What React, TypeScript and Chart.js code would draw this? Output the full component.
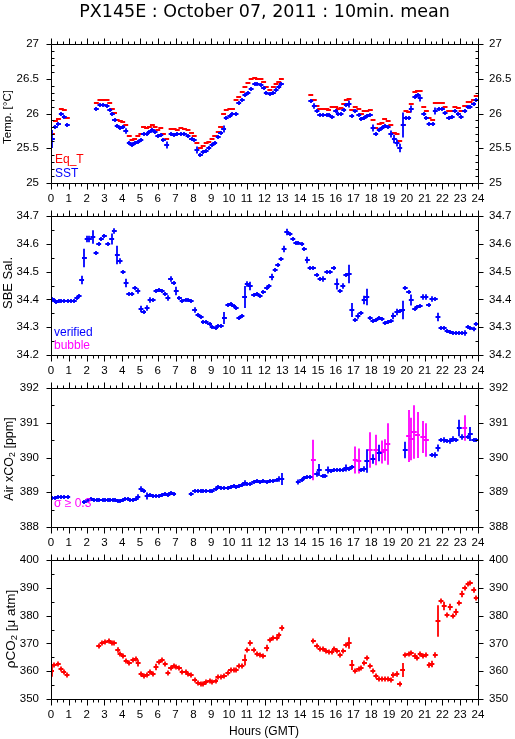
import React, { useEffect, useRef } from "react";
import { Chart, registerables } from "chart.js";
Chart.register(...registerables);

// ---------- shared axis labels ----------
const hourLabels = ["0","1","2","3","4","5","6","7","8","9","10","11","12","13","14","15","16","17","18","19","20","21","22","23","24"];

// ---------- Panel 1 : temperature ----------
const tempHours = [
  0.08, 0.25, 0.42, 0.58, 0.75, 0.92,
  2.55, 2.75, 2.95, 3.15, 3.3, 3.45, 3.57, 3.72, 3.9, 4.03, 4.2, 4.4, 4.55, 4.7, 4.88, 5.05, 5.2, 5.37, 5.53, 5.7,
  5.85, 6.0, 6.17, 6.32, 6.5, 6.75, 6.92, 7.1, 7.3, 7.5, 7.7, 7.9, 8.05, 8.2, 8.4, 8.55, 8.72, 8.87, 9.05, 9.2,
  9.4, 9.53, 9.7, 9.85, 10.05, 10.2, 10.4, 10.55, 10.75, 10.9, 11.07, 11.25, 11.45, 11.6, 11.8, 11.95, 12.1, 12.3,
  12.5, 12.65, 12.8, 12.95,
  14.6, 14.8, 14.95, 15.1, 15.3, 15.5, 15.6, 15.8, 16.0, 16.15, 16.3, 16.45, 16.6, 16.75, 16.9, 17.1, 17.3, 17.45,
  17.6, 17.75, 17.95, 18.1, 18.25, 18.45, 18.6, 18.75, 18.95, 19.1, 19.3, 19.45, 19.6, 19.8, 19.95, 20.1, 20.25,
  20.45, 20.6, 20.75, 20.95, 21.1, 21.25, 21.45, 21.6, 21.8, 22.0, 22.15, 22.35, 22.55, 22.7, 22.9, 23.05, 23.25,
  23.45, 23.55, 23.75, 23.9,
];
const eqTValues = [
  25.70, 25.89, 25.92, 26.06, 26.05, 25.93,
  26.15, 26.20, 26.20, 26.20, 26.15, 26.07, 26.01, 25.90, 25.89, 25.88, 25.84, 25.67, 25.62, 25.64, 25.67, 25.70,
  25.80, 25.79, 25.81, 25.83, 25.81, 25.76, 25.79, 25.70, 25.63, 25.78, 25.78, 25.76, 25.79, 25.78, 25.76, 25.72,
  25.67, 25.58, 25.50, 25.53, 25.57, 25.59, 25.63, 25.67, 25.73, 25.81, 26.00, 26.05, 26.06, 26.07, 26.19, 26.24,
  26.31, 26.38, 26.44, 26.49, 26.51, 26.50, 26.49, 26.45, 26.38, 26.34, 26.38, 26.43, 26.46, 26.49,
  26.26, 26.19, 26.11, 26.07, 26.06, 26.07, 26.05, 26.10, 26.09, 26.07, 26.08, 26.14, 26.20, 26.21, 26.05, 26.10,
  26.06, 25.99, 26.03, 26.04, 26.05, 25.91, 25.79, 25.85, 25.87, 25.92, 25.89, 25.83, 25.72, 25.71, 25.60, 25.84,
  26.04, 26.02, 26.14, 26.31, 26.33, 26.33, 26.09, 26.04, 25.94, 25.91, 26.15, 26.15, 26.15, 26.09, 26.03, 26.03,
  26.10, 26.08, 26.04, 26.11, 26.17, 26.17, 26.20, 26.25,
];
const sstValues = [
  25.64, 25.81, 25.85, 25.99, 25.95, 25.83,
  26.07, 26.12, 26.12, 26.11, 26.05, 26.00, 25.91, 25.82, 25.79, 25.81, 25.75, 25.57, 25.54, 25.57, 25.59, 25.62,
  25.71, 25.71, 25.74, 25.76, 25.74, 25.68, 25.69, 25.62, 25.55, 25.70, 25.69, 25.70, 25.71, 25.70, 25.68, 25.64,
  25.62, 25.48, 25.40, 25.44, 25.46, 25.51, 25.55, 25.58, 25.66, 25.72, 25.77, 25.93, 25.97, 25.99, 26.00, 26.15,
  26.20, 26.26, 26.30, 26.35, 26.43, 26.42, 26.41, 26.36, 26.30, 26.28, 26.30, 26.34, 26.38, 26.43,
  26.18, 26.11, 26.03, 25.98, 25.98, 25.98, 25.98, 25.95, 26.03, 26.00, 26.00, 26.05, 26.12, 26.14, 25.96, 26.03,
  25.98, 25.92, 25.94, 25.96, 25.98, 25.79, 25.70, 25.76, 25.79, 25.82, 25.80, 25.71, 25.64, 25.57, 25.50, 25.84,
  25.94, 25.94, 26.07, 26.24, 26.27, 26.23, 25.99, 25.94, 25.85, 25.85, 26.04, 26.06, 26.06, 26.01, 25.94, 25.95,
  26.03, 26.00, 25.95, 26.03, 26.09, 26.10, 26.14, 26.19,
];
const sstErr: [number, number][] = [
  [0.08, 0.13], [3.9, 0.03], [4.2, 0.04], [4.4, 0.03], [5.05, 0.03], [6.32, 0.03], [6.5, 0.05], [8.2, 0.05],
  [9.4, 0.03], [9.7, 0.05], [10.75, 0.02], [10.9, 0.03], [14.8, 0.04], [16.75, 0.05], [17.3, 0.03], [18.1, 0.05],
  [19.1, 0.05], [19.3, 0.06], [19.45, 0.05], [19.6, 0.06], [19.8, 0.18], [20.25, 0.05], [20.75, 0.05], [21.6, 0.05],
];
const tempTickValues = [25, 25.5, 26, 26.5, 27];
const tempTickLabels = ["25", "25.5", "26", "26.5", "27"];

// ---------- Panel 2 : salinity [hour, value, sigma] ----------
const salinity: number[][] = [
  [0.08, 34.400], [0.2, 34.396], [0.3, 34.390, 0.006], [0.43, 34.393], [0.58, 34.395], [0.75, 34.396], [0.94, 34.394],
  [1.12, 34.394], [1.31, 34.394], [1.45, 34.405], [1.58, 34.414], [1.72, 34.47, 0.015], [1.88, 34.55, 0.033],
  [2.03, 34.616, 0.012], [2.16, 34.616, 0.012], [2.35, 34.623, 0.024], [2.53, 34.567], [2.68, 34.599], [2.83, 34.616],
  [3.0, 34.628], [3.19, 34.60], [3.41, 34.616, 0.02], [3.56, 34.647, 0.01], [3.73, 34.56, 0.033], [3.88, 34.537, 0.01],
  [4.05, 34.50], [4.22, 34.46, 0.015], [4.37, 34.42], [4.54, 34.42], [4.71, 34.44], [4.88, 34.43, 0.01],
  [5.06, 34.366, 0.012], [5.2, 34.354], [5.4, 34.37, 0.01], [5.57, 34.399, 0.01], [5.74, 34.399], [5.9, 34.432],
  [6.06, 34.435], [6.25, 34.43], [6.42, 34.418], [6.57, 34.406, 0.01], [6.72, 34.475, 0.01], [6.89, 34.459],
  [7.04, 34.43, 0.015], [7.22, 34.405], [7.37, 34.396], [7.56, 34.399], [7.69, 34.399], [7.88, 34.394],
  [8.07, 34.363, 0.01], [8.26, 34.345], [8.44, 34.336], [8.57, 34.318], [8.72, 34.318], [8.91, 34.312], [9.06, 34.30],
  [9.25, 34.298], [9.38, 34.306], [9.57, 34.306], [9.75, 34.334, 0.022], [9.94, 34.381], [10.09, 34.382],
  [10.26, 34.375], [10.41, 34.37], [10.56, 34.334], [10.73, 34.34], [10.88, 34.41, 0.04], [11.03, 34.457, 0.01],
  [11.2, 34.447, 0.015], [11.39, 34.417], [11.58, 34.418], [11.75, 34.414], [11.94, 34.427], [12.12, 34.44],
  [12.25, 34.45], [12.4, 34.48, 0.012], [12.6, 34.505], [12.74, 34.523], [12.93, 34.547], [13.1, 34.583, 0.012],
  [13.25, 34.641, 0.012], [13.43, 34.637], [13.59, 34.619], [13.76, 34.604], [13.9, 34.604], [14.09, 34.599],
  [14.24, 34.58], [14.41, 34.54, 0.012], [14.56, 34.514], [14.75, 34.514], [14.93, 34.487], [15.12, 34.475],
  [15.31, 34.475, 0.01], [15.5, 34.50], [15.69, 34.50], [15.88, 34.514], [16.06, 34.457, 0.02], [16.25, 34.432],
  [16.4, 34.447, 0.01], [16.57, 34.487], [16.76, 34.49, 0.033], [16.91, 34.363, 0.025], [17.1, 34.327],
  [17.25, 34.342, 0.01], [17.42, 34.35], [17.6, 34.399, 0.015], [17.75, 34.41, 0.03], [17.94, 34.334], [18.09, 34.324],
  [18.26, 34.327], [18.45, 34.334], [18.6, 34.328], [18.78, 34.314], [18.93, 34.318], [19.12, 34.324],
  [19.25, 34.342, 0.012], [19.44, 34.354, 0.012], [19.59, 34.357], [19.76, 34.363, 0.033], [19.91, 34.44],
  [20.1, 34.427], [20.25, 34.399, 0.02], [20.44, 34.366], [20.57, 34.372], [20.75, 34.375], [20.9, 34.41, 0.01],
  [21.07, 34.41, 0.01], [21.22, 34.381], [21.41, 34.403, 0.01], [21.6, 34.403], [21.75, 34.336, 0.015],
  [21.92, 34.298], [22.1, 34.298], [22.26, 34.288], [22.44, 34.282], [22.59, 34.278], [22.76, 34.278],
  [22.95, 34.278], [23.1, 34.278], [23.25, 34.278, 0.01], [23.44, 34.30], [23.57, 34.296], [23.76, 34.294, 0.008],
  [23.9, 34.312],
];
const salTickValues = [34.2, 34.3, 34.4, 34.5, 34.6, 34.7];
const salTickLabels = ["34.2", "34.3", "34.4", "34.5", "34.6", "34.7"];

// ---------- Panel 3 : air xCO2 [hour, value, sigma] ----------
const airCO2: number[][] = [
  [0.06, 388.83], [0.2, 388.83], [0.38, 388.85], [0.56, 388.87], [0.75, 388.87], [0.94, 388.87],
  [1.88, 388.73], [2.06, 388.78], [2.25, 388.80], [2.4, 388.78], [2.57, 388.78], [2.72, 388.78], [2.9, 388.78],
  [3.06, 388.78], [3.19, 388.79], [3.34, 388.78], [3.47, 388.79], [3.62, 388.78], [3.75, 388.76], [3.88, 388.76],
  [4.03, 388.78], [4.18, 388.80], [4.33, 388.80], [4.46, 388.79], [4.6, 388.78], [4.75, 388.80], [4.88, 388.85, 0.08],
  [5.06, 389.09, 0.08], [5.2, 389.05, 0.05], [5.4, 388.90, 0.1], [5.57, 388.92], [5.74, 388.90], [5.9, 388.90],
  [6.06, 388.90], [6.25, 388.93], [6.42, 388.95, 0.05], [6.57, 388.93], [6.72, 388.97, 0.05], [6.89, 388.95],
  [7.88, 388.95], [8.07, 389.03], [8.26, 389.05], [8.44, 389.03], [8.57, 389.03], [8.72, 389.03], [8.91, 389.03],
  [9.06, 389.05], [9.25, 389.09], [9.38, 389.16, 0.06], [9.57, 389.12], [9.75, 389.12], [9.94, 389.12],
  [10.09, 389.14, 0.05], [10.26, 389.17], [10.41, 389.14], [10.56, 389.19, 0.06], [10.73, 389.22], [10.88, 389.26, 0.08],
  [11.03, 389.24], [11.2, 389.24], [11.39, 389.29], [11.58, 389.31], [11.75, 389.29], [11.94, 389.31], [12.12, 389.29],
  [12.3, 389.31], [12.5, 389.32], [12.68, 389.34, 0.06], [12.8, 389.38, 0.08], [12.97, 389.38, 0.17],
  [13.9, 389.29, 0.07], [14.09, 389.34], [14.24, 389.40, 0.05], [14.41, 389.45, 0.06], [14.56, 389.45, 0.05],
  [14.93, 389.53, 0.08], [15.08, 389.63, 0.17], [15.27, 389.48], [15.4, 389.48], [15.55, 389.63, 0.1], [15.74, 389.61],
  [15.88, 389.63], [16.06, 389.65], [16.23, 389.65], [16.4, 389.65], [16.57, 389.70, 0.1], [16.76, 389.68],
  [16.91, 389.72, 0.06], [17.43, 389.63, 0.05], [17.6, 389.68, 0.08], [17.75, 389.89, 0.34], [18.09, 389.97, 0.14],
  [18.45, 390.13, 0.24], [19.91, 390.23, 0.24], [21.41, 390.06, 0.05], [21.6, 390.06, 0.08], [21.75, 390.26, 0.1],
  [21.92, 390.50, 0.06], [22.1, 390.50, 0.08], [22.26, 390.48, 0.05], [22.44, 390.48, 0.08], [22.59, 390.52, 0.08],
  [22.76, 390.50], [22.95, 390.84, 0.24], [23.1, 390.58, 0.08], [23.44, 390.60, 0.05], [23.57, 390.69, 0.2],
  [23.76, 390.50], [23.9, 390.50],
];
const airCO2Sigma: number[][] = [
  [14.75, 389.92, 0.58], [17.1, 389.93, 0.39], [17.3, 389.89, 0.36], [17.94, 390.21, 0.51], [18.26, 390.23, 0.44],
  [18.6, 390.16, 0.33], [18.78, 390.23, 0.31], [18.93, 390.40, 0.6], [20.1, 390.61, 0.75], [20.25, 390.52, 0.61],
  [20.42, 390.74, 0.77], [20.6, 390.64, 0.66], [20.9, 390.58, 0.46], [21.1, 390.50, 0.48], [23.25, 390.84, 0.37],
];
const airTickValues = [388, 389, 390, 391, 392];
const airTickLabels = ["388", "389", "390", "391", "392"];

// ---------- Panel 4 : pCO2 [hour, value, sigma] ----------
const pCO2: number[][] = [
  [0.03, 360.0, 2.1], [0.19, 362.4], [0.41, 362.7, 0.8], [0.56, 360.9], [0.71, 359.7], [0.9, 358.8],
  [2.68, 369.0], [2.87, 370.0], [3.06, 370.4], [3.25, 370.8], [3.43, 370.0], [3.56, 370.0], [3.75, 367.5, 1],
  [3.88, 366.1], [4.07, 365.4], [4.22, 363.7, 0.9], [4.41, 363.0], [4.6, 363.9], [4.75, 364.5], [4.9, 363.0, 1.3],
  [5.06, 358.9], [5.2, 358.2], [5.4, 358.5], [5.57, 359.7], [5.74, 358.9], [5.9, 361.5, 1.2], [6.06, 363.3],
  [6.25, 363.9], [6.42, 362.5, 0.9], [6.57, 359.4, 0.8], [6.72, 361.2], [6.89, 361.8], [7.04, 361.5], [7.22, 361.3],
  [7.37, 359.7], [7.56, 359.7], [7.69, 359.1], [7.88, 358.8], [8.07, 357.0, 0.8], [8.26, 355.8], [8.44, 355.3],
  [8.57, 355.3], [8.72, 356.1], [8.91, 356.4], [9.06, 356.1], [9.25, 356.5], [9.38, 357.9], [9.57, 357.9],
  [9.75, 358.2], [9.94, 359.4], [10.09, 360.3], [10.26, 360.6], [10.41, 360.3], [10.56, 361.8], [10.73, 361.9],
  [10.88, 364.2, 2], [11.03, 367.8], [11.2, 370.2, 1], [11.39, 367.8, 0.9], [11.58, 366.1], [11.75, 365.7],
  [11.94, 365.5], [12.12, 368.5, 1.2], [12.3, 371.4], [12.5, 371.8], [12.7, 372.1], [12.8, 373.2], [12.97, 375.4, 1],
  [14.75, 370.8], [14.93, 369.1], [15.12, 368.1], [15.31, 367.9], [15.46, 367.2], [15.63, 366.9], [15.78, 366.9],
  [15.93, 367.9], [16.1, 367.2, 0.8], [16.25, 365.7], [16.44, 367.3], [16.57, 369.6], [16.76, 370.0, 2.1],
  [16.91, 362.1, 1.8], [17.1, 360.0], [17.29, 360.9], [17.43, 361.3], [17.62, 363.1, 0.9], [17.75, 364.9, 0.9],
  [17.94, 361.8], [18.09, 360.0], [18.26, 358.2], [18.41, 357.3], [18.6, 357.1], [18.75, 357.1], [18.93, 357.3],
  [19.12, 357.0], [19.25, 358.5, 1], [19.44, 359.1, 1], [19.59, 355.5], [19.76, 360.3, 2.5], [19.91, 365.7],
  [20.1, 366.3], [20.25, 366.7], [20.44, 365.4, 1], [20.57, 364.9], [20.75, 366.1], [20.9, 365.4], [21.07, 365.7],
  [21.26, 362.1, 1], [21.41, 362.5, 1.2], [21.6, 365.7, 1], [21.75, 378.0, 5.7], [21.92, 385.2], [22.1, 383.4, 1.5],
  [22.26, 380.2], [22.44, 383.2, 1.2], [22.59, 379.8], [22.76, 381.4, 1.2], [22.95, 384.6], [23.1, 387.7, 1.2],
  [23.25, 390.0], [23.44, 391.2], [23.57, 391.6], [23.76, 389.2, 1], [23.9, 386.2],
];
const pco2TickValues = [350, 360, 370, 380, 390, 400];
const pco2TickLabels = ["350", "360", "370", "380", "390", "400"];

// ---------- styling ----------
const BLUE = "#0000ff";
const RED = "#ff0000";
const MAGENTA = "#ff00ff";
const TICK_FONT = '11.5px "Liberation Sans", Arial, sans-serif';
const HALF_BIN = 0.11;
const PLOT_H = 139;

type Series = { points: number[][]; color: string; dashOnly?: boolean; minHalf: number };
type TitlePart = { t: string; sub?: boolean };
type Note = { text: string; color: string; x: number; y: number; size: number };
type PanelDef = {
  panelTop: number; canvasTop: number; padTop: number; padBottom: number;
  yMin: number; yMax: number; minor: number; major: number;
  tickValues: number[]; tickLabels: string[];
  title: TitlePart[]; titleSize: number; titleX: number; titleY: number;
  series: Series[]; notes: Note[]; mainTitle?: boolean; hoursTitle?: boolean;
};

const zip = (hs: number[], vs: number[], errs?: [number, number][]) =>
  hs.map((h, i) => {
    const e = errs ? errs.find((p) => p[0] === h) : undefined;
    return [h, vs[i], e ? e[1] : 0];
  });

const panels: PanelDef[] = [
  {
    panelTop: 44, canvasTop: 0, padTop: 44, padBottom: 30,
    yMin: 25, yMax: 27, minor: 0.1, major: 0.5,
    tickValues: tempTickValues, tickLabels: tempTickLabels,
    title: [{ t: "Temp. [°C]" }], titleSize: 11.5, titleX: 8, titleY: 117,
    series: [
      { points: zip(tempHours, eqTValues), color: RED, dashOnly: true, minHalf: 0 },
      { points: zip(tempHours, sstValues, sstErr), color: BLUE, minHalf: 2 },
    ],
    notes: [
      { text: "Eq_T", color: RED, x: 55, y: 163, size: 12 },
      { text: "SST", color: BLUE, x: 55, y: 177, size: 12 },
    ],
    mainTitle: true,
  },
  {
    panelTop: 216, canvasTop: 186, padTop: 30, padBottom: 30,
    yMin: 34.2, yMax: 34.7, minor: 0.05, major: 0.1,
    tickValues: salTickValues, tickLabels: salTickLabels,
    title: [{ t: "SBE Sal." }], titleSize: 13, titleX: 8, titleY: 283,
    series: [{ points: salinity, color: BLUE, minHalf: 2 }],
    notes: [
      { text: "verified", color: BLUE, x: 54, y: 336, size: 12 },
      { text: "bubble", color: MAGENTA, x: 54, y: 349, size: 12 },
    ],
  },
  {
    panelTop: 388, canvasTop: 358, padTop: 30, padBottom: 30,
    yMin: 388, yMax: 392, minor: 0.5, major: 1,
    tickValues: airTickValues, tickLabels: airTickLabels,
    title: [{ t: "Air xCO" }, { t: "2", sub: true }, { t: " [ppm]" }], titleSize: 12.5, titleX: 10, titleY: 459,
    series: [
      { points: airCO2Sigma, color: MAGENTA, minHalf: 2 },
      { points: airCO2, color: BLUE, minHalf: 2 },
    ],
    notes: [{ text: "σ ≥ 0.3", color: MAGENTA, x: 54, y: 507, size: 12 }],
  },
  {
    panelTop: 560, canvasTop: 530, padTop: 30, padBottom: 40,
    yMin: 350, yMax: 400, minor: 5, major: 10,
    tickValues: pco2TickValues, tickLabels: pco2TickLabels,
    title: [{ t: "ρCO" }, { t: "2", sub: true }, { t: " [μ atm]" }], titleSize: 13.5, titleX: 11, titleY: 629,
    series: [{ points: pCO2, color: RED, minHalf: 2.5 }],
    notes: [],
    hoursTitle: true,
  },
];

function makePlugin(def: PanelDef) {
  return {
    id: "gradsPanel",
    afterDatasetsDraw(chart: any) {
      const ctx: CanvasRenderingContext2D = chart.ctx;
      const xs = chart.scales.x;
      const ys = chart.scales.y;
      const ca = chart.chartArea;
      ctx.save();
      ctx.beginPath();
      ctx.rect(ca.left, ca.top, ca.right - ca.left, ca.bottom - ca.top);
      ctx.clip();
      ctx.lineWidth = 1.8;
      ctx.lineCap = "butt";
      for (const s of def.series) {
        ctx.strokeStyle = s.color;
        ctx.beginPath();
        for (const p of s.points) {
          const [h, v] = p;
          const err = p[2] || 0;
          const px = Math.round(xs.getPixelForValue(h));
          const py = Math.round(ys.getPixelForValue(v));
          const x1 = xs.getPixelForValue(h - HALF_BIN);
          const x2 = xs.getPixelForValue(h + HALF_BIN);
          ctx.moveTo(x1 - 0.5, py);
          ctx.lineTo(x2 + 0.5, py);
          if (!s.dashOnly) {
            const eTop = ys.getPixelForValue(v + err);
            const eBot = ys.getPixelForValue(v - err);
            const half = Math.max((eBot - eTop) / 2, s.minHalf);
            ctx.moveTo(px, py - half);
            ctx.lineTo(px, py + half);
          }
        }
        ctx.stroke();
      }
      ctx.restore();
    },
    afterDraw(chart: any) {
      const ctx: CanvasRenderingContext2D = chart.ctx;
      const xs = chart.scales.x;
      const ys = chart.scales.y;
      const ca = chart.chartArea;
      const L = Math.round(ca.left) + 0.5;
      const R = Math.round(ca.right) + 0.5;
      const T = Math.round(ca.top) + 0.5;
      const B = Math.round(ca.bottom) + 0.5;
      ctx.save();
      ctx.strokeStyle = "#000";
      ctx.lineWidth = 1;
      ctx.beginPath();
      ctx.rect(L, T, R - L, B - T);
      // x ticks every 20 minutes, labelled every hour
      for (let i = 0; i <= 72; i++) {
        const h = i / 3;
        const x = Math.round(xs.getPixelForValue(h)) + 0.5;
        const len = i % 3 === 0 ? 6 : 3;
        ctx.moveTo(x, T);
        ctx.lineTo(x, T - len);
        ctx.moveTo(x, B);
        ctx.lineTo(x, B + len);
      }
      // y ticks
      const n = Math.round((def.yMax - def.yMin) / def.minor);
      const ratio = Math.round(def.major / def.minor);
      for (let i = 0; i <= n; i++) {
        const v = def.yMin + i * def.minor;
        const y = Math.round(ys.getPixelForValue(v)) + 0.5;
        if (i % ratio === 0) {
          ctx.moveTo(L - 5, y);
          ctx.lineTo(L, y);
          ctx.moveTo(R, y);
          ctx.lineTo(R + 5, y);
        } else {
          ctx.moveTo(L, y);
          ctx.lineTo(L + 3, y);
          ctx.moveTo(R - 3, y);
          ctx.lineTo(R, y);
        }
      }
      ctx.stroke();

      ctx.fillStyle = "#000";
      ctx.font = TICK_FONT;
      ctx.textBaseline = "alphabetic";
      ctx.textAlign = "center";
      hourLabels.forEach((lab, i) => {
        ctx.fillText(lab, xs.getPixelForValue(i), ca.bottom + 19);
      });
      ctx.textBaseline = "middle";
      def.tickValues.forEach((v, i) => {
        const y = ys.getPixelForValue(v);
        ctx.textAlign = "right";
        ctx.fillText(def.tickLabels[i], 39, y);
        ctx.textAlign = "left";
        ctx.fillText(def.tickLabels[i], 489, y);
      });

      // rotated axis title
      const off = def.canvasTop;
      ctx.save();
      ctx.translate(def.titleX, def.titleY - off);
      ctx.rotate(-Math.PI / 2);
      const big = `${def.titleSize}px "Liberation Sans", Arial, sans-serif`;
      const small = `${def.titleSize * 0.7}px "Liberation Sans", Arial, sans-serif`;
      let total = 0;
      for (const p of def.title) {
        ctx.font = p.sub ? small : big;
        total += ctx.measureText(p.t).width;
      }
      let cx = -total / 2;
      ctx.textAlign = "left";
      ctx.textBaseline = "middle";
      for (const p of def.title) {
        ctx.font = p.sub ? small : big;
        ctx.fillText(p.t, cx, p.sub ? 3 : 0);
        cx += ctx.measureText(p.t).width;
      }
      ctx.restore();

      // notes
      ctx.textAlign = "left";
      ctx.textBaseline = "alphabetic";
      for (const nt of def.notes) {
        ctx.font = `${nt.size}px "Liberation Sans", Arial, sans-serif`;
        ctx.fillStyle = nt.color;
        ctx.fillText(nt.text, nt.x, nt.y - off);
      }

      ctx.fillStyle = "#000";
      if (def.mainTitle) {
        ctx.font = '17.5px "DejaVu Sans", sans-serif';
        ctx.textAlign = "center";
        ctx.fillText("PX145E : October 07, 2011 : 10min. mean", 264.5, 17 - off);
      }
      if (def.hoursTitle) {
        ctx.font = '12px "Liberation Sans", Arial, sans-serif';
        ctx.textAlign = "center";
        ctx.fillText("Hours (GMT)", 264, 735 - off);
      }
      ctx.restore();
    },
  };
}

function Panel({ def }: { def: PanelDef }) {
  const ref = useRef<HTMLCanvasElement>(null);
  const h = def.padTop + PLOT_H + def.padBottom;
  useEffect(() => {
    if (!ref.current) return;
    const chart = new Chart(ref.current, {
      type: "scatter",
      data: {
        datasets: def.series.map((s) => ({
          data: s.points.map((p) => ({ x: p[0], y: p[1] })),
          pointRadius: 0,
          showLine: false,
        })),
      },
      options: {
        animation: false,
        responsive: false,
        events: [],
        layout: { padding: { left: 51, right: 37, top: def.padTop, bottom: def.padBottom } },
        plugins: { legend: { display: false }, tooltip: { enabled: false } },
        scales: {
          x: { type: "linear", min: 0, max: 24, display: false },
          y: { type: "linear", min: def.yMin, max: def.yMax, display: false },
        },
      },
      plugins: [makePlugin(def)],
    } as any);
    return () => chart.destroy();
  }, []);
  return (
    <canvas
      ref={ref}
      width={515}
      height={h}
      style={{ position: "absolute", left: 0, top: def.canvasTop, width: 515, height: h }}
    />
  );
}

export default function App() {
  return (
    <div style={{ position: "absolute", left: 0, top: 0, width: 515, height: 739, background: "#fff", overflow: "hidden" }}>
      {panels.map((p, i) => (
        <Panel key={i} def={p} />
      ))}
    </div>
  );
}
